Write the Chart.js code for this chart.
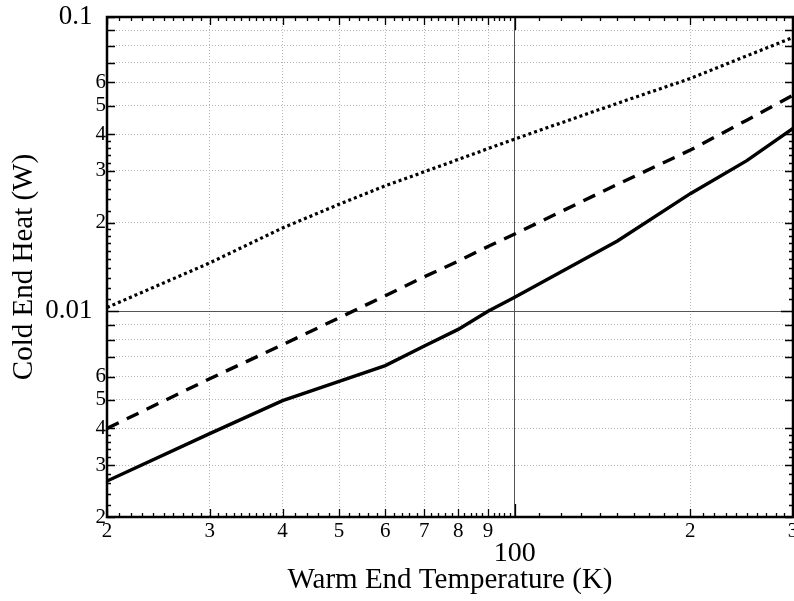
<!DOCTYPE html>
<html>
<head>
<meta charset="utf-8">
<script src="https://cdn.jsdelivr.net/npm/chart.js@4.4.0/dist/chart.umd.min.js"></script>
<style>
    html, body { margin: 0; padding: 0; background: #fff; }
    #wrap { width: 794px; height: 601px; }
</style>
</head>
<body>
<div id="wrap"><canvas id="heatChart" width="794" height="601"></canvas></div>
<script>
var temps = [20, 30, 40, 50, 60, 70, 80, 90, 100, 150, 200, 250, 300];

// Cold end heat (W) for the three curves
var heatDotted = [0.0103, 0.0146, 0.0192, 0.0231, 0.0267, 0.0298, 0.0328, 0.0357, 0.0385, 0.0509, 0.0618, 0.0738, 0.0852];
var heatDashed = [0.0040, 0.0059, 0.0077, 0.0095, 0.0113, 0.0131, 0.0148, 0.0166, 0.0183, 0.0270, 0.0353, 0.0446, 0.0542];
var heatSolid  = [0.00265, 0.00384, 0.00497, 0.00578, 0.00654, 0.00762, 0.00868, 0.0100, 0.01116, 0.01733, 0.0251, 0.0325, 0.0418];

// Axis ticks and their labels
var xTickValues = [20, 30, 40, 50, 60, 70, 80, 90, 100, 200, 300];
var xTickLabels = ['2', '3', '4', '5', '6', '7', '8', '9', '100', '2', '3'];
var yTickValues = [0.002, 0.003, 0.004, 0.005, 0.006, 0.007, 0.008, 0.009, 0.01,
                   0.02, 0.03, 0.04, 0.05, 0.06, 0.07, 0.08, 0.09, 0.1];
var yTickLabels = ['2', '3', '4', '5', '6', '', '', '', '0.01',
                   '2', '3', '4', '5', '6', '', '', '', '0.1'];

var serif = '"Liberation Serif", "Times New Roman", serif';

function points(ys) {
    return temps.map(function (t, i) { return { x: t, y: ys[i] }; });
}

function isMajor(v) {
    return Math.abs(v - 100) < 1e-9 || Math.abs(v - 0.01) < 1e-12;
}

// minor tick positions along the frame (decoration only)
function xMinorTicks() {
    var out = [], v;
    for (v = 21; v < 40; v++) if (v % 10) out.push(v);
    for (v = 42; v < 100; v += 2) if (v % 10) out.push(v);
    for (v = 110; v < 300; v += 10) if (v % 100) out.push(v);
    return out;
}
function yMinorTicks() {
    var out = [], v;
    for (v = 22; v < 40; v += 2) if (v % 10) out.push(v / 10000);
    for (v = 11; v < 20; v++) out.push(v / 1000);
    for (v = 22; v < 40; v += 2) if (v % 10) out.push(v / 1000);
    return out;
}

// frame box with inward ticks on all four sides
var framePlugin = {
    id: 'frame',
    afterDatasetsDraw: function (chart) {
        var a = chart.chartArea, ctx = chart.ctx;
        var xs = chart.scales.x, ys = chart.scales.y;
        ctx.save();
        ctx.strokeStyle = '#000';
        ctx.lineWidth = 1.3;
        ctx.beginPath();
        function xTick(v, len) {
            var px = Math.round(xs.getPixelForValue(v)) + 0.5;
            ctx.moveTo(px, a.bottom); ctx.lineTo(px, a.bottom - len);
            ctx.moveTo(px, a.top); ctx.lineTo(px, a.top + len);
        }
        function yTick(v, len) {
            var py = Math.round(ys.getPixelForValue(v)) + 0.5;
            ctx.moveTo(a.left, py); ctx.lineTo(a.left + len, py);
            ctx.moveTo(a.right, py); ctx.lineTo(a.right - len, py);
        }
        xMinorTicks().forEach(function (v) { xTick(v, 4); });
        yMinorTicks().forEach(function (v) { yTick(v, 4); });
        xTickValues.forEach(function (v) { xTick(v, isMajor(v) ? 13 : 8); });
        yTickValues.forEach(function (v) { yTick(v, isMajor(v) ? 12 : 8); });
        ctx.stroke();
        ctx.lineWidth = 2.5;
        ctx.strokeRect(a.left, a.top, a.right - a.left, a.bottom - a.top);
        ctx.restore();
    }
};

var ctx = document.getElementById('heatChart').getContext('2d');

var heatChart = new Chart(ctx, {
    type: 'line',
    data: {
        datasets: [{
            data: points(heatDotted),
            borderColor: '#000',
            borderWidth: 3.2,
            borderDash: [3, 3],
            pointRadius: 0,
            tension: 0,
            fill: false
        }, {
            data: points(heatDashed),
            borderColor: '#000',
            borderWidth: 3.4,
            borderDash: [13, 9],
            pointRadius: 0,
            tension: 0,
            fill: false
        }, {
            data: points(heatSolid),
            borderColor: '#000',
            borderWidth: 3.4,
            pointRadius: 0,
            tension: 0,
            fill: false
        }]
    },
    options: {
        responsive: false,
        animation: false,
        layout: { padding: { top: 17, right: 1, left: 0, bottom: 0 } },
        plugins: {
            legend: { display: false },
            tooltip: { enabled: false }
        },
        scales: {
            x: {
                type: 'logarithmic',
                min: 20,
                max: 300,
                afterBuildTicks: function (scale) {
                    scale.ticks = xTickValues.map(function (v) { return { value: v }; });
                },
                afterFit: function (scale) {
                    scale.height = 84;
                    scale.paddingLeft = 0;
                    scale.paddingRight = 0;
                },
                grid: {
                    drawTicks: false,
                    color: function (c) { return c.tick && isMajor(c.tick.value) ? '#555' : '#b5b5b5'; },
                    lineWidth: 1
                },
                border: {
                    display: false,
                    dash: function (c) { return c.tick && isMajor(c.tick.value) ? [] : [1, 2]; }
                },
                ticks: {
                    autoSkip: false,
                    maxRotation: 0,
                    padding: 2,
                    color: '#000',
                    font: function (c) {
                        if (c.tick && c.tick.value === 100) {
                            return { family: serif, size: 28, lineHeight: 0.82 };
                        }
                        return { family: serif, size: 21, lineHeight: 1.2 };
                    },
                    callback: function (value, index) {
                        var lab = xTickLabels[index];
                        return value === 100 ? ['', lab] : lab;
                    }
                },
                title: {
                    display: true,
                    text: 'Warm End Temperature (K)',
                    color: '#000',
                    font: { family: serif, size: 29, lineHeight: 1.2 },
                    padding: { top: 0, bottom: 3 }
                }
            },
            y: {
                type: 'logarithmic',
                min: 0.002,
                max: 0.1,
                afterBuildTicks: function (scale) {
                    scale.ticks = yTickValues.map(function (v) { return { value: v }; });
                },
                afterFit: function (scale) {
                    scale.width = 107;
                    scale.paddingTop = 0;
                    scale.paddingBottom = 0;
                },
                grid: {
                    drawTicks: false,
                    color: function (c) { return c.tick && isMajor(c.tick.value) ? '#555' : '#b5b5b5'; },
                    lineWidth: 1
                },
                border: {
                    display: false,
                    dash: function (c) { return c.tick && isMajor(c.tick.value) ? [] : [1, 2]; }
                },
                ticks: {
                    autoSkip: false,
                    padding: 1,
                    color: '#000',
                    font: function (c) {
                        var lab = c.index != null ? yTickLabels[c.index] : '';
                        return { family: serif, size: lab && lab.length > 1 ? 27 : 21 };
                    },
                    callback: function (value, index) {
                        var lab = yTickLabels[index];
                        return lab.length > 1 ? lab + '  ' : lab;
                    }
                },
                title: {
                    display: true,
                    text: 'Cold End Heat (W)',
                    color: '#000',
                    font: { family: serif, size: 29, lineHeight: 1.2 },
                    padding: { top: 7, bottom: 0 }
                }
            }
        }
    },
    plugins: [framePlugin]
});
</script>
</body>
</html>
